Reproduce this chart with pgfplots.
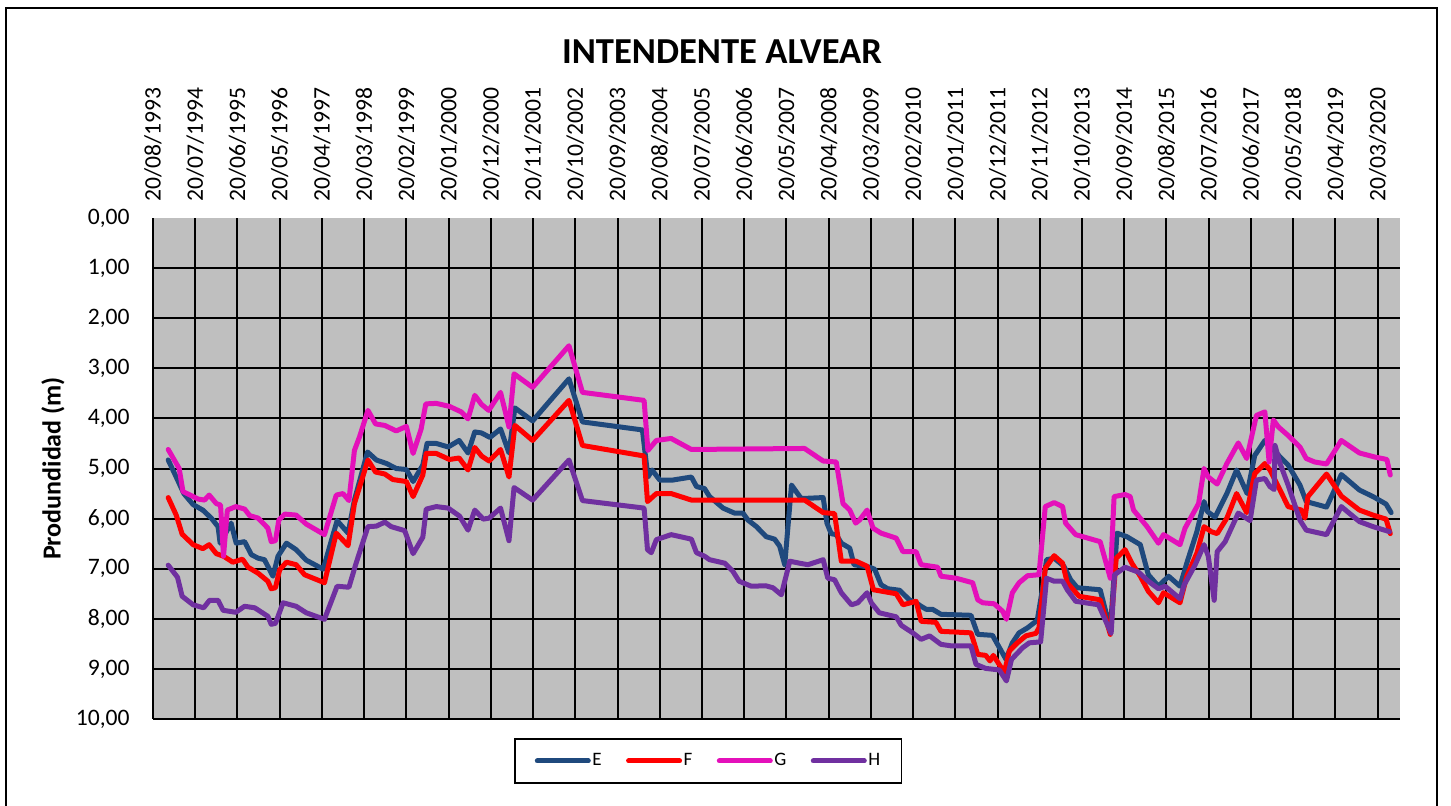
\documentclass[border=0pt]{standalone}
\usepackage{fontspec}
\setmainfont{Carlito}
\usepackage{pgfplots}
\pgfplotsset{compat=1.18}
\definecolor{cE}{RGB}{31,73,125}
\definecolor{cF}{RGB}{255,0,0}
\definecolor{cG}{RGB}{228,16,186}
\definecolor{cH}{RGB}{112,48,160}
\definecolor{plotbg}{RGB}{191,191,191}
\newcommand\tfont{\fontsize{11.8}{13}\selectfont}
\begin{document}
\begin{tikzpicture}
\useasboundingbox (-76.5pt,-43pt) rectangle (649pt,359.5pt);
\draw[line width=1pt] (-73.5pt,-60pt) -- (-73.5pt,355.5pt) -- (642pt,355.5pt) -- (642pt,-60pt);
\begin{axis}[
  at={(0pt,0pt)}, anchor=south west,
  scale only axis, width=623.5pt, height=250.5pt,
  xmin=0, xmax=29.53, ymin=0, ymax=10, y dir=reverse,
  axis line style={draw=none},
  axis background/.style={fill=plotbg},
  major tick length=0pt,
  xtick={0,...,29},
  xticklabels={20/08/1993,20/07/1994,20/06/1995,20/05/1996,20/04/1997,20/03/1998,20/02/1999,20/01/2000,20/12/2000,20/11/2001,20/10/2002,20/09/2003,20/08/2004,20/07/2005,20/06/2006,20/05/2007,20/04/2008,20/03/2009,20/02/2010,20/01/2011,20/12/2011,20/11/2012,20/10/2013,20/09/2014,20/08/2015,20/07/2016,20/06/2017,20/05/2018,20/04/2019,20/03/2020},
  xticklabel pos=right,
  xticklabel style={rotate=90, anchor=west, inner sep=0pt, font=\tfont},
  xticklabel shift=8pt,
  ytick={0,...,10},
  yticklabel style={/pgf/number format/.cd, fixed, fixed zerofill, precision=2, use comma, 1000 sep={}, assume math mode=true, /tikz/.cd, font=\tfont, inner sep=0pt, xshift=-11.5pt},
  xmajorgrids=true, ymajorgrids=false,
  extra y ticks={1,...,10}, extra y tick labels={},
  extra y tick style={grid=major},
  major grid style={black, line width=1pt},
  every axis title shift=0pt,
  title={INTENDENTE ALVEAR},
  title style={at={(axis description cs:0.4563,1.3313)}, anchor=center, yshift=0pt, inner sep=0pt, font=\bfseries\fontsize{18.3}{20}\selectfont},
  ylabel={Produndidad (m)},
  ylabel style={at={(axis description cs:-0.0802,0.5)}, anchor=center, inner sep=0pt, font=\bfseries\fontsize{13}{15}\selectfont},
  legend columns=4,
  legend image code/.code={\draw[#1, line cap=round] (0pt,0pt) -- (25.5pt,0pt);},
  legend style={at={(axis description cs:0.2895,-0.0379)}, anchor=north west, draw=black, line width=0.8pt, fill=white, font=\fontsize{9.5}{10}\selectfont, inner xsep=10pt, inner ysep=6.5pt, nodes={inner sep=0.75pt}, /tikz/every even column/.append style={column sep=11.5pt}},
  every axis plot/.append style={line width=2.5pt, line join=round, line cap=round},
]
\addplot[cE] table {
0.36 4.83
0.55 5.17
0.73 5.50
0.95 5.72
1.18 5.83
1.38 5.99
1.54 6.16
1.59 6.49
1.85 6.09
1.97 6.49
2.17 6.46
2.33 6.72
2.49 6.79
2.64 6.82
2.84 7.15
2.96 6.75
3.16 6.49
3.39 6.62
3.63 6.83
4.03 7.01
4.36 6.04
4.62 6.29
4.77 5.63
5.08 4.67
5.29 4.83
5.53 4.90
5.76 5.00
6.00 5.02
6.16 5.26
6.39 4.93
6.49 4.50
6.71 4.50
6.99 4.57
7.25 4.44
7.46 4.69
7.62 4.27
7.78 4.29
7.98 4.38
8.23 4.21
8.43 4.69
8.57 3.79
8.99 4.05
9.85 3.21
10.17 4.07
11.59 4.23
11.72 5.17
11.82 5.03
12.00 5.23
12.31 5.23
12.75 5.17
12.87 5.36
13.06 5.40
13.18 5.56
13.50 5.79
13.77 5.89
13.97 5.89
14.09 6.03
14.29 6.16
14.52 6.36
14.72 6.41
14.84 6.55
14.96 6.92
15.12 5.33
15.35 5.60
15.87 5.58
15.96 6.09
16.06 6.30
16.18 6.32
16.30 6.49
16.50 6.59
16.60 6.92
16.97 6.97
17.09 7.01
17.24 7.32
17.40 7.40
17.68 7.43
17.91 7.62
18.07 7.68
18.19 7.75
18.31 7.81
18.46 7.81
18.66 7.91
19.37 7.93
19.53 8.31
19.88 8.33
20.20 8.81
20.35 8.48
20.51 8.28
20.71 8.18
20.94 8.03
21.06 7.42
21.16 6.82
21.34 6.79
21.57 6.95
21.73 7.22
21.89 7.38
22.43 7.42
22.67 8.21
22.83 6.29
23.06 6.36
23.38 6.52
23.57 7.12
23.81 7.35
24.05 7.15
24.32 7.35
24.48 6.89
24.72 6.26
24.89 5.66
24.97 5.86
25.15 5.97
25.43 5.50
25.66 5.03
25.91 5.50
26.09 4.74
26.33 4.44
26.45 4.54
26.69 4.77
26.88 4.93
27.16 5.33
27.31 5.66
27.79 5.77
27.94 5.50
28.14 5.12
28.57 5.43
28.89 5.56
29.20 5.71
29.32 5.88
};
\addlegendentry{E}
\addplot[cF] table {
0.36 5.58
0.55 5.93
0.69 6.31
0.95 6.52
1.18 6.60
1.33 6.52
1.50 6.70
1.67 6.75
1.89 6.87
2.12 6.81
2.25 6.97
2.49 7.09
2.72 7.25
2.80 7.40
2.90 7.38
3.00 7.02
3.16 6.87
3.39 6.92
3.59 7.12
4.06 7.28
4.34 6.29
4.62 6.54
4.77 5.70
5.09 4.83
5.27 5.07
5.49 5.11
5.68 5.22
6.00 5.26
6.16 5.56
6.39 5.13
6.47 4.70
6.71 4.70
7.02 4.82
7.25 4.79
7.46 5.03
7.62 4.58
7.78 4.75
7.96 4.85
8.23 4.62
8.43 5.17
8.57 4.14
8.99 4.44
9.85 3.64
10.17 4.54
11.63 4.75
11.71 5.66
11.92 5.50
12.27 5.50
12.75 5.63
15.43 5.63
15.87 5.88
16.14 5.90
16.30 6.85
16.65 6.85
16.91 6.95
17.06 7.42
17.60 7.50
17.76 7.72
18.07 7.65
18.19 8.05
18.54 8.07
18.66 8.25
19.37 8.28
19.53 8.71
19.72 8.73
19.82 8.84
19.90 8.73
20.16 9.07
20.28 8.64
20.47 8.48
20.67 8.34
20.91 8.29
20.98 8.18
21.13 6.99
21.34 6.74
21.54 6.89
21.65 7.28
21.93 7.55
22.43 7.62
22.67 8.31
22.81 6.79
23.02 6.62
23.18 6.89
23.38 7.15
23.57 7.45
23.81 7.68
23.93 7.48
24.32 7.68
24.48 7.15
24.72 6.69
24.89 6.16
25.06 6.26
25.20 6.30
25.43 5.99
25.66 5.50
25.90 5.88
26.09 5.10
26.33 4.90
26.45 5.03
26.69 5.43
26.88 5.76
27.20 5.83
27.28 5.99
27.35 5.56
27.79 5.11
28.14 5.55
28.57 5.83
28.89 5.93
29.20 6.01
29.30 6.30
};
\addlegendentry{F}
\addplot[cG] table {
0.36 4.62
0.62 5.00
0.71 5.46
1.07 5.61
1.22 5.63
1.33 5.53
1.50 5.70
1.60 5.73
1.67 6.75
1.76 5.83
1.96 5.76
2.17 5.81
2.29 5.94
2.49 5.99
2.72 6.19
2.80 6.46
2.90 6.44
2.98 6.03
3.12 5.91
3.39 5.93
3.63 6.11
4.06 6.32
4.34 5.53
4.50 5.50
4.64 5.64
4.77 4.64
4.89 4.37
5.09 3.84
5.27 4.11
5.49 4.14
5.76 4.25
6.00 4.16
6.16 4.70
6.35 4.21
6.46 3.71
6.71 3.70
7.02 3.76
7.30 3.87
7.46 4.01
7.62 3.54
7.78 3.72
7.95 3.84
8.23 3.48
8.43 4.17
8.55 3.11
8.99 3.38
9.85 2.55
10.17 3.48
11.63 3.64
11.72 4.64
11.92 4.44
12.27 4.40
12.75 4.62
15.43 4.60
15.87 4.85
16.18 4.87
16.34 5.70
16.50 5.83
16.64 6.09
16.73 6.03
16.91 5.83
17.05 6.19
17.24 6.29
17.60 6.39
17.76 6.66
18.07 6.66
18.19 6.92
18.58 6.97
18.66 7.15
19.02 7.19
19.41 7.28
19.53 7.62
19.65 7.68
19.92 7.70
20.12 7.85
20.21 8.01
20.35 7.48
20.51 7.28
20.71 7.14
20.98 7.12
21.13 5.76
21.34 5.68
21.54 5.76
21.61 6.09
21.85 6.32
22.43 6.46
22.67 7.19
22.76 5.56
23.02 5.52
23.14 5.56
23.22 5.83
23.54 6.16
23.81 6.49
23.93 6.32
24.32 6.52
24.44 6.19
24.76 5.70
24.89 5.00
24.99 5.17
25.20 5.31
25.43 4.90
25.70 4.49
25.90 4.80
26.13 3.94
26.33 3.87
26.43 4.87
26.53 4.03
26.65 4.17
26.88 4.34
27.16 4.57
27.31 4.80
27.51 4.87
27.79 4.91
28.14 4.44
28.57 4.69
28.93 4.77
29.22 4.82
29.30 5.13
};
\addlegendentry{G}
\addplot[cH] table {
0.36 6.93
0.58 7.17
0.69 7.55
0.95 7.72
1.20 7.78
1.34 7.63
1.54 7.63
1.66 7.83
1.96 7.87
2.17 7.75
2.41 7.78
2.72 7.95
2.80 8.11
2.90 8.09
3.08 7.68
3.39 7.75
3.63 7.88
4.06 8.01
4.36 7.35
4.64 7.37
4.81 6.89
5.09 6.16
5.29 6.15
5.49 6.07
5.64 6.16
5.96 6.24
6.16 6.70
6.39 6.37
6.47 5.81
6.71 5.76
6.99 5.79
7.26 5.95
7.46 6.23
7.62 5.83
7.82 6.01
7.96 5.99
8.23 5.79
8.43 6.44
8.55 5.38
8.99 5.63
9.85 4.83
10.17 5.64
11.63 5.79
11.71 6.62
11.80 6.68
11.92 6.42
12.27 6.32
12.75 6.41
12.87 6.68
13.06 6.75
13.18 6.82
13.54 6.89
13.73 7.05
13.88 7.25
14.17 7.35
14.51 7.34
14.68 7.38
14.88 7.52
15.08 6.85
15.31 6.89
15.51 6.92
15.87 6.82
15.98 7.19
16.14 7.22
16.30 7.48
16.54 7.72
16.69 7.68
16.91 7.48
17.01 7.68
17.20 7.88
17.60 7.96
17.72 8.13
17.99 8.28
18.19 8.41
18.39 8.34
18.66 8.51
18.90 8.54
19.37 8.54
19.49 8.91
19.72 8.99
20.04 9.02
20.21 9.24
20.33 8.81
20.59 8.58
20.75 8.48
21.02 8.46
21.16 7.19
21.34 7.25
21.54 7.25
21.65 7.42
21.85 7.65
22.39 7.72
22.69 8.29
22.77 7.12
23.02 6.97
23.34 7.07
23.57 7.25
23.81 7.40
23.97 7.35
24.32 7.60
24.42 7.32
24.68 6.92
24.89 6.52
24.99 6.75
25.13 7.63
25.20 6.66
25.39 6.46
25.70 5.89
25.98 6.04
26.13 5.23
26.33 5.20
26.45 5.36
26.55 5.42
26.57 4.54
26.69 4.90
26.88 5.33
27.16 6.03
27.31 6.23
27.79 6.32
28.14 5.76
28.57 6.06
28.89 6.16
29.28 6.26
};
\addlegendentry{H}
\end{axis}
\end{tikzpicture}
\end{document}
